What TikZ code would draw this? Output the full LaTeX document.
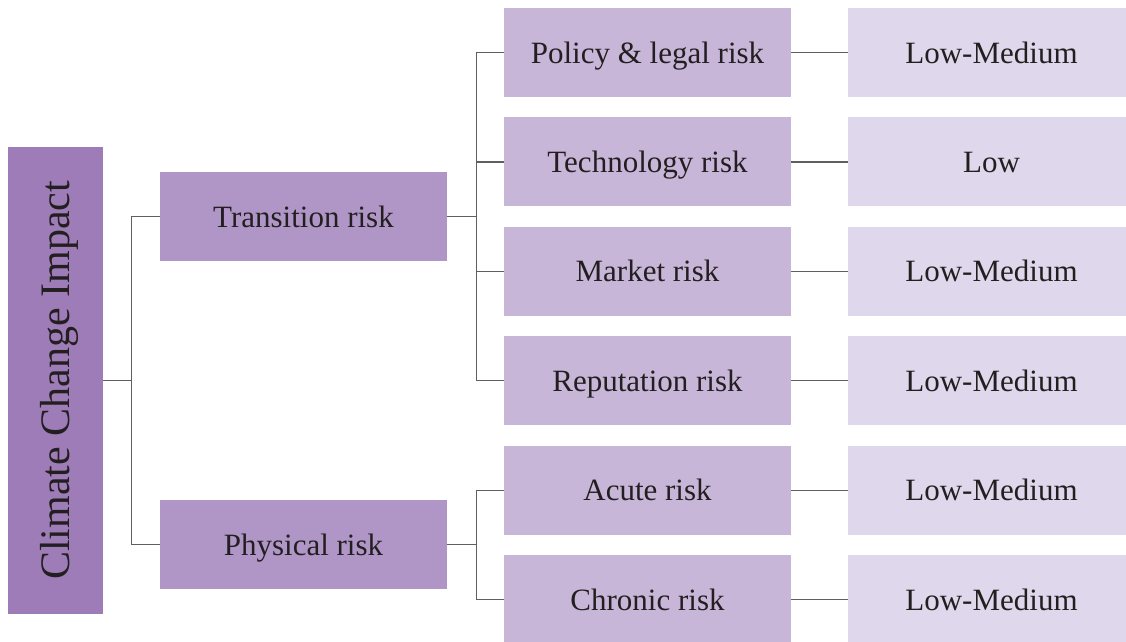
\documentclass[tikz,border=0pt]{standalone}
\usepackage{fontspec}
\setmainfont{Liberation Serif}
\usepackage{tikz}
\usetikzlibrary{positioning}
\pgfdeclarelayer{background}
\pgfdeclarelayer{foreground}
\pgfsetlayers{background,main,foreground}
\definecolor{rootfill}{RGB}{158,124,183}
\definecolor{typefill}{RGB}{176,150,199}
\definecolor{riskfill}{RGB}{200,182,217}
\definecolor{levelfill}{RGB}{223,215,235}
\definecolor{linkgray}{RGB}{95,95,95}
\definecolor{textdark}{RGB}{35,31,32}
\begin{document}
\begin{tikzpicture}[x=1pt,y=-1pt,
					box/.style={rectangle, inner sep=0pt, text=textdark, text height=21pt, text depth=0pt, font=\fontsize{31}{36}\selectfont},
					rootbox/.style={box, fill=rootfill, rotate=90, minimum width=467pt, minimum height=95pt, text height=28pt, font=\fontsize{42}{48}\selectfont},
					typebox/.style={box, fill=typefill, minimum width=287pt, minimum height=89pt},
					riskbox/.style={box, fill=riskfill, minimum width=287pt, minimum height=89pt},
					levelbox/.style={box, fill=levelfill, minimum width=287pt, minimum height=89pt},
					link/.style={draw=linkgray, line width=1.2pt},
					]
					\path[use as bounding box, clip] (0,0) rectangle (1126,641);
					%Nodes
					\node[rootbox]      (root)  at  (55.5,380.5)    {Climate Change Impact};
					\node[typebox]      (tr)    at  (303.5,216.5)   {Transition risk};
					\node[typebox]      (ph)    at  (303.5,544.5)   {Physical risk};
					
					\node[riskbox]      (r1)    at  (647.5,52.5)    {Policy \& legal risk};
					\node[riskbox]      (r2)    at  (647.5,161.9)   {Technology risk};
					\node[riskbox]      (r3)    at  (647.5,271.3)   {Market risk};
					\node[riskbox]      (r4)    at  (647.5,380.7)   {Reputation risk};
					\node[riskbox]      (r5)    at  (647.5,490.1)   {Acute risk};
					\node[riskbox]      (r6)    at  (647.5,599.5)   {Chronic risk};
					
					\node[levelbox]     (l1)    at  (991.5,52.5)    {Low-Medium};
					\node[levelbox]     (l2)    at  (991.5,161.9)   {Low};
					\node[levelbox]     (l3)    at  (991.5,271.3)   {Low-Medium};
					\node[levelbox]     (l4)    at  (991.5,380.7)   {Low-Medium};
					\node[levelbox]     (l5)    at  (991.5,490.1)   {Low-Medium};
					\node[levelbox]     (l6)    at  (991.5,599.5)   {Low-Medium};
					
					\begin{pgfonlayer}{background}
					%Lines
					\draw[link] (root.south) -- ++(28,0) |- (tr.west);
					\draw[link] (root.south) -- ++(28,0) |- (ph.west);
					\draw[link] (tr.east) -- ++(29,0) |- (r1.west);
					\draw[link] (tr.east) -- ++(29,0) |- (r2.west);
					\draw[link] (tr.east) -- ++(29,0) |- (r3.west);
					\draw[link] (tr.east) -- ++(29,0) |- (r4.west);
					\draw[link] (ph.east) -- ++(29,0) |- (r5.west);
					\draw[link] (ph.east) -- ++(29,0) |- (r6.west);
					\draw[link] (r1.east) -- (l1.west);
					\draw[link] (r2.east) -- (l2.west);
					\draw[link] (r3.east) -- (l3.west);
					\draw[link] (r4.east) -- (l4.west);
					\draw[link] (r5.east) -- (l5.west);
					\draw[link] (r6.east) -- (l6.west);
					\end{pgfonlayer}
				\end{tikzpicture}
\end{document}
